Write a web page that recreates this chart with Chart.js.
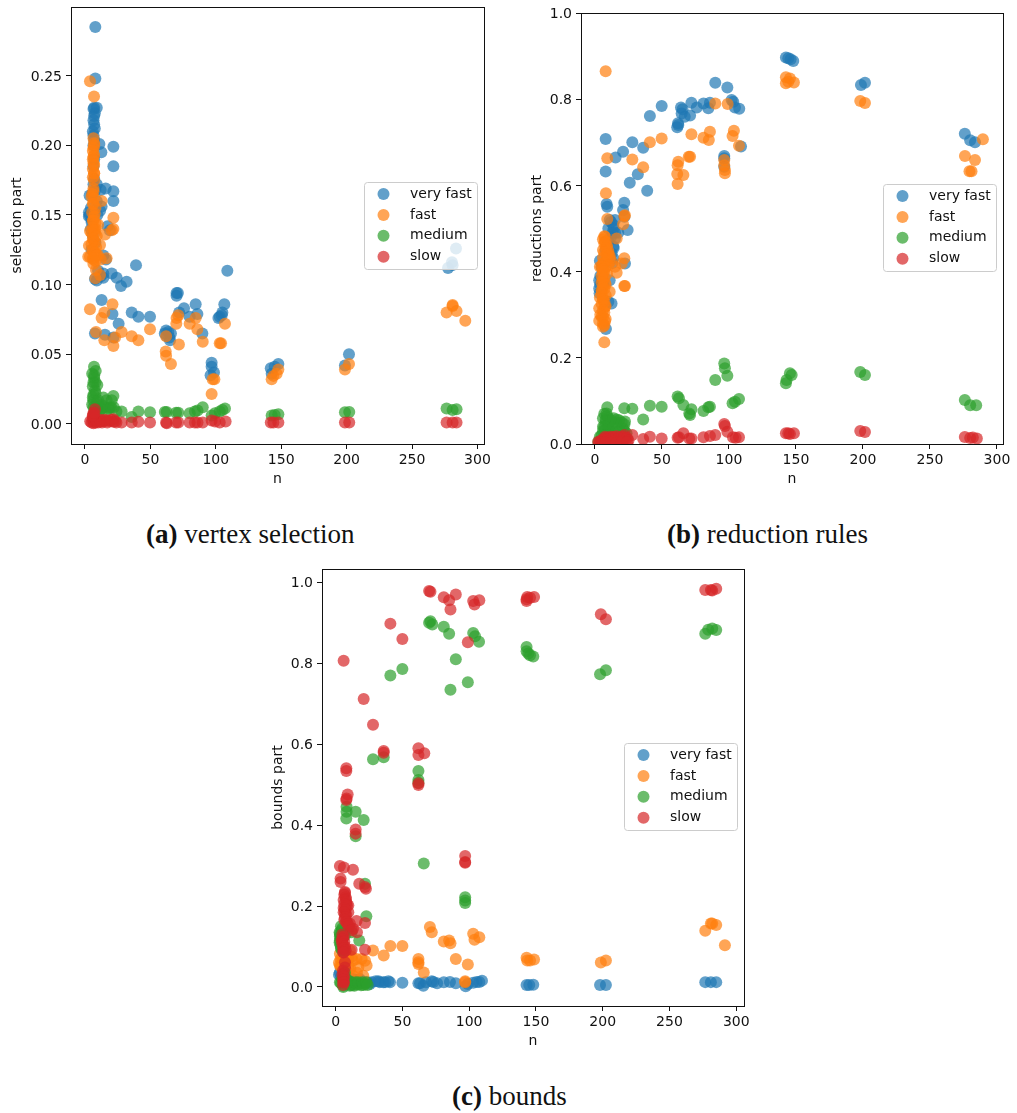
<!DOCTYPE html>
<html>
<head>
<meta charset="utf-8">
<title>Time parts by n</title>
<script src="https://cdn.jsdelivr.net/npm/chart.js@4"></script>
<style>
    body { margin: 0; background: #fff; width: 1017px; height: 1113px; position: relative; overflow: hidden; }
    canvas { position: absolute; }
    .caption { position: absolute; font-family: "Liberation Serif", serif; font-size: 27px; line-height: 30px; color: #111; white-space: nowrap; }
</style>
</head>
<body>
<canvas id="chart-a" width="492" height="502" style="left:0;top:-10px"></canvas>
<canvas id="chart-b" width="491" height="492" style="left:520px;top:0"></canvas>
<canvas id="chart-c" width="491" height="502" style="left:261px;top:550px"></canvas>
<div class="caption" style="left:146px;top:519px"><b>(a)</b> vertex selection</div>
<div class="caption" style="left:667px;top:519px"><b>(b)</b> reduction rules</div>
<div class="caption" style="left:452px;top:1081px"><b>(c)</b> bounds</div>
<script>
const seriesNames = ['very fast', 'fast', 'medium', 'slow'];
const seriesColors = ['rgba(31,119,180,0.7)', 'rgba(255,127,14,0.7)', 'rgba(44,160,44,0.7)', 'rgba(214,39,40,0.7)'];

const xTicks = [0, 50, 100, 150, 200, 250, 300];
const yTicksA = [0, 0.05, 0.10, 0.15, 0.20, 0.25];
const yTicksB = [0, 0.2, 0.4, 0.6, 0.8, 1.0];
const yTicksC = [0, 0.2, 0.4, 0.6, 0.8, 1.0];

// [n, part]
const selectionVeryFast = [[7.9,.285],[7.9,.248],[7,.227],[9,.227],[7,.221],[7,.215],[6.5,.207],[7,.204],[11,.201],[12.5,.195],[21.7,.199],[21.7,.185],[6.5,.185],[7,.176],[9,.172],[15.8,.169],[21.7,.167],[21.7,.160],[12,.168],[3.5,.164],[12.7,.156],[3,.152],[3,.149],[5,.145],[17.3,.142],[19,.139],[6,.135],[8,.13],[5,.125],[14,.121],[16,.118],[39,.114],[108.8,.11],[31.8,.102],[27.5,.099],[24.2,.105],[20.4,.108],[14,.105],[7.6,.104],[12.7,.089],[21,.079],[35.7,.080],[40.8,.077],[49.7,.077],[25.7,.072],[7.6,.065],[15.3,.064],[21.7,.062],[62,.067],[63.7,.066],[65.7,.065],[61,.065],[64.5,.062],[65,.060],[62.5,.063],[70,.094],[71,.094],[70,.092],[72,.080],[75.7,.083],[80,.077],[84.6,.086],[85.9,.079],[89.7,.065],[102,.076],[103,.077],[105,.080],[106.5,.086],[104.5,.078],[96.8,.044],[96.8,.041],[98.6,.037],[96,.035],[142,.040],[147.8,.043],[145,.041],[142.7,.036],[198.7,.042],[201.8,.050],[277.5,.112],[280.5,.116],[281,.114],[283.6,.126],[6.5,.226],[7.5,.223],[6.5,.218],[7.5,.212],[6,.21],[6.5,.2],[7,.19],[6.5,.172],[8,.168],[5.5,.165],[9,.16],[4.5,.155],[3.5,.15],[5,.147],[9.5,.15],[11.5,.153],[4.5,.14],[10,.11],[14,.108],[12,.106],[9,.103]];
const selectionFast = [[3.8,.246],[6.9,.235],[7,.2015],[6.5,.198],[6.5,.192],[6.5,.187],[7,.18],[6.5,.167],[5,.163],[6.5,.158],[12.7,.160],[7.5,.151],[6.5,.146],[21.7,.148],[21.7,.140],[20.5,.139],[15.3,.136],[3.8,.1385],[7.5,.137],[6.5,.132],[3,.128],[11.5,.1285],[7.5,.1225],[8,.14],[10,.143],[2.5,.12],[16.5,.119],[6.5,.118],[3.8,.12],[6.4,.115],[10,.121],[12,.118],[8.4,.1105],[11.5,.107],[8,.1045],[3.8,.0823],[12.7,.076],[14.8,.080],[21,.086],[8.4,.066],[14.8,.060],[21.7,.056],[23,.062],[28,.066],[35.7,.063],[40.8,.060],[49.7,.068],[62,.063],[61.7,.052],[62,.049],[65.7,.043],[71.8,.057],[69.8,.072],[71.3,.078],[70,.076],[80,.072],[84.6,.076],[85.9,.068],[90,.059],[103,.058],[104,.058],[107,.072],[97.6,.032],[98.9,.032],[96.8,.0215],[142.7,.032],[144,.0345],[146.5,.036],[147.8,.039],[198.7,.039],[201.8,.043],[276.4,.080],[281,.0854],[281,.0847],[284,.081],[290.7,.074],[6.5,.205],[7,.2],[6,.196],[7,.193],[6,.19],[7,.186],[6,.183],[7,.18],[6,.177],[7,.175],[6.5,.169],[5.5,.165],[7,.162],[6,.158],[8,.155],[5.5,.152],[7,.149],[6,.146],[8,.144],[6,.141],[7,.139],[5,.137],[9,.135],[6,.133],[7.5,.131],[5,.129],[8.5,.127],[6,.125],[7.5,.123],[9,.121],[6,.119],[8,.117]];
const selectionMedium = [[6.9,.041],[8.2,.038],[7,.035],[6.5,.030],[9.4,.028],[7.6,.024],[6.5,.021],[6.5,.017],[6.5,.012],[14,.019],[16.5,.017],[21.7,.020],[20.4,.017],[12.7,.0136],[10,.017],[19,.012],[11.5,.010],[8,.008],[16,.009],[28,.009],[35.7,.005],[40.8,.009],[49.7,.0084],[61,.0086],[62.4,.0086],[69.6,.008],[71.3,.008],[80,.0077],[84,.009],[86,.0096],[90,.012],[96.8,.006],[99.4,.0077],[103,.009],[105,.010],[107,.011],[142.7,.006],[145,.0065],[147.8,.007],[198.7,.0084],[202,.0086],[276.4,.011],[281,.010],[284,.0105],[5.5,.036],[7,.033],[8,.03],[6,.027],[8,.022],[6,.019],[9,.016],[5.5,.014],[8,.012],[11,.012],[13,.011],[15,.012],[18,.011],[20,.012],[22,.012],[24,.009]];
const selectionSlow = [[7.6,.0105],[6.5,.0077],[6,.0053],[4,.002],[6.5,.0005],[8,.001],[11.5,.003],[14,.002],[16.5,.0025],[21.7,.0033],[21.7,.0015],[28,.001],[35.7,.001],[40.8,.0015],[49.7,.001],[62,.001],[62.5,.0005],[69.6,.001],[71.3,.001],[80,.001],[84,.001],[86,.001],[90,.001],[96.8,.0024],[99.4,.0017],[103,.001],[107.5,.0017],[142,.001],[144,.001],[147.8,.001],[198.7,.001],[202,.001],[276.4,.001],[281,.001],[284,.001],[5,.001],[6,.003],[7,.002],[8,.004],[9,.002],[10,.001],[12,.002],[13,.001],[15,.003],[17,.001],[19,.002],[20,.003],[23,.002],[24,.001],[6,.006],[7,.008]];

const reductionsVeryFast = [[142.5,.897],[144.3,.895],[146,.8925],[148,.8886],[89.8,.838],[98.8,.827],[49.8,.784],[41,.761],[64.2,.781],[65.4,.7765],[64.7,.767],[67,.7595],[71,.762],[62.2,.740],[61.4,.7347],[62,.744],[72,.792],[76,.781],[81,.79],[84.6,.779],[85.8,.792],[102,.798],[103.2,.794],[104.5,.781],[107.7,.778],[109,.690],[96.5,.668],[96.5,.663],[96.5,.6435],[8,.7077],[15.4,.665],[21,.678],[27.9,.70],[36,.6875],[8,.632],[32,.6257],[26,.606],[39,.5878],[8.7,.557],[9.2,.5507],[21.9,.56],[21,.543],[22,.5275],[24.4,.4965],[15,.52],[13.7,.508],[10,.50],[17.4,.49],[15,.477],[13.7,.458],[12.4,.442],[13.7,.431],[22.4,.419],[3.7,.4253],[3.2,.38],[3.2,.361],[11,.38],[12.4,.326],[8.2,.267],[6,.373],[198.5,.833],[201.5,.838],[276,.72],[280,.705],[283.6,.70],[4,.39],[4,.37],[3.5,.35],[5,.41],[8,.45],[10,.47],[12,.48],[13,.49],[11,.44],[13,.42],[11,.52],[12,.515],[14,.5],[15,.49],[14,.455],[10,.33]];
const reductionsFast = [[8,.8646],[142.5,.851],[145.5,.848],[142.5,.837],[144.3,.8407],[148.5,.839],[89.8,.79],[99,.789],[49.8,.709],[41,.70],[27.9,.66],[36,.642],[9.2,.663],[8.2,.5816],[72,.7185],[70,.6667],[71,.6667],[62.2,.655],[61.7,.647],[61.4,.6265],[66,.624],[61.7,.603],[81,.7107],[85,.7053],[85.8,.7247],[103.7,.727],[102.7,.7146],[107.5,.692],[96.5,.659],[96.5,.647],[97,.6357],[97,.628],[22.4,.531],[21,.51],[21.9,.529],[16.2,.477],[9.2,.522],[21.9,.431],[20,.419],[16.2,.3975],[21.9,.3666],[22.4,.3666],[7.5,.481],[7.5,.4695],[8.7,.458],[10,.442],[11,.431],[15,.411],[6,.419],[3.7,.411],[6,.396],[6,.38],[7.5,.373],[5,.357],[11,.353],[6,.338],[3.7,.34],[3.2,.315],[7.5,.3186],[3.2,.286],[6,.295],[6,.272],[7,.236],[7.5,.284],[198,.796],[201.5,.791],[276.1,.668],[283.6,.659],[279.5,.633],[281,.633],[289.5,.707],[7,.482],[6,.475],[8,.47],[7,.465],[9,.46],[8,.455],[6,.45],[10,.448],[7,.445],[9,.44],[11,.437],[6,.432],[8,.428],[12,.425],[7,.42],[10,.415],[5,.412],[8,.41],[6,.405],[7,.4],[9,.395],[5,.39],[7,.385],[5,.375],[8,.37],[6,.365],[7,.36],[5,.35],[8,.345],[6,.335],[7,.33],[5,.325],[8,.32],[6,.31],[7,.305],[4,.3],[5,.295],[8,.29],[6,.28],[7,.275]];
const reductionsMedium = [[96.5,.187],[97,.1756],[98.8,.1585],[89.8,.1485],[145.5,.164],[146.8,.16],[143,.1485],[142.5,.1408],[61.7,.11],[62.7,.106],[66,.0905],[72,.0804],[70.4,.071],[71,.067],[81,.0766],[84.6,.085],[85.8,.0866],[102.7,.0943],[104.5,.098],[107.5,.1044],[49.8,.0866],[41,.089],[36,.057],[27.9,.082],[21.9,.0827],[9.2,.085],[8.7,.071],[8,.056],[10,.044],[16.2,.057],[22.4,.052],[21,.036],[13.7,.048],[6,.04],[8.7,.025],[3.7,.017],[15,.025],[23.6,.025],[7.5,.032],[11,.032],[2.5,.005],[198,.167],[201.5,.16],[276,.102],[280,.09],[284.5,.09],[7,.07],[9,.065],[6,.06],[8,.05],[10,.06],[12,.055],[14,.06],[16,.05],[18,.055],[20,.05],[22,.045],[7,.04],[10,.035],[13,.035],[16,.03],[19,.03],[22,.03],[6,.03],[8,.02],[5,.02]];
const reductionsSlow = [[96.5,.0464],[97,.0418],[98.8,.0286],[89.8,.021],[85.8,.0186],[81,.0155],[70.4,.013],[72,.013],[66,.0247],[61.7,.0147],[62.7,.0155],[49.8,.013],[41,.017],[36,.0116],[27.9,.021],[22,.021],[22.4,.013],[103,.0155],[105,.0147],[107.5,.0155],[142.5,.0247],[144.3,.0247],[145.5,.023],[148.5,.0247],[2.5,.005],[5,.009],[7.5,.017],[10,.013],[12.4,.011],[15,.013],[17.4,.011],[20,.013],[6,.005],[8.7,.009],[198,.03],[201.5,.028],[276,.016],[280,.014],[282,.015],[285,.013],[3,.003],[4,.006],[6,.01],[8,.014],[10,.015],[12,.017],[14,.016],[16,.018],[18,.015],[20,.017],[22,.016],[24,.014],[25,.008],[5,.003],[8,.003],[12,.003],[16,.003],[20,.004],[24,.004]];

const boundsVeryFast = [[3.2,.036],[25.7,.0074],[32,.014],[35.7,.0116],[39.5,.014],[40.7,.0116],[50,.0107],[62,.009],[63.2,.009],[65.7,.0033],[67.7,.0116],[72,.014],[73.2,.0124],[76,.009],[81,.0116],[85.6,.0124],[90,.009],[97.4,.0017],[99,.0074],[103,.0107],[105.6,.0124],[107.6,.0124],[109.6,.0157],[143,.005],[145,.005],[148,.0058],[198,.005],[202.4,.005],[276.8,.012],[281,.012],[285,.012],[5.7,.032],[8.2,.02],[13,.02],[18,.02],[20.7,.0116],[2.5,.03],[4,.025],[15,.018],[20,.014],[24,.012],[27,.012],[30,.014],[33,.012],[37,.012]];
const boundsFast = [[70.6,.148],[72,.1355],[81,.1124],[85,.115],[86,.108],[90,.0694],[103,.1314],[107.6,.123],[104,.117],[99,.0554],[97,.014],[97,.0116],[143,.072],[143.5,.0653],[145.6,.0653],[148.6,.068],[41,.101],[50,.101],[36,.0777],[28,.09],[62,.0694],[62,.061],[62,.057],[66,.036],[276.8,.139],[281,.157],[282,.157],[285,.153],[291.5,.103],[198.6,.0607],[202.4,.0656],[3.7,.0694],[7,.0735],[9.5,.0694],[13,.065],[15.7,.0694],[19.5,.0694],[22,.065],[23.2,.053],[17,.049],[9.5,.053],[3.2,.053],[3.2,.082],[5.7,.09],[10.7,.09],[20.7,.028],[13,.028],[8.2,.04],[7,.082],[5,.07],[8,.065],[12,.075],[4,.05],[6,.045],[11,.045],[16,.035],[2.5,.06]];
const boundsMedium = [[71,.904],[70,.90],[72.4,.896],[81,.89],[85,.8727],[103,.875],[104.4,.867],[107.4,.853],[90,.81],[86,.7347],[99,.753],[143,.84],[143,.83],[144.3,.824],[148,.817],[145.6,.82],[50,.786],[41,.77],[28,.563],[36,.568],[62,.534],[62,.5116],[62,.505],[8.2,.4455],[8.2,.433],[8,.4165],[15,.433],[21,.4124],[15,.3727],[66,.305],[97,.222],[97,.214],[97,.2074],[22,.2554],[23,.175],[4.5,.14],[3.2,.131],[3.2,.115],[17.7,.115],[3.7,.103],[5.7,.003],[5.7,.0],[10.7,.003],[13,.005],[18,.0074],[22,.0074],[8.2,.0074],[3.2,.0116],[9.5,.144],[12,.1355],[7,.127],[3.2,.124],[198,.773],[202.4,.783],[276.8,.873],[279,.883],[282,.886],[285,.882],[4,.15],[5,.145],[3,.135],[4,.125],[3,.11],[4,.095],[5,.09],[4,.01],[5,.02],[6,.03],[7,.035],[8,.02],[9,.01],[10,.015],[11,.005],[12,.012],[14,.003],[15,.012],[16,.006],[17,.012],[19,.004],[20,.012],[21,.005],[23,.012],[24,.005]];
const boundsSlow = [[70,.9785],[71,.977],[81,.963],[85,.956],[90,.97],[86,.933],[103,.9537],[104,.9455],[107.6,.956],[99,.852],[143,.958],[143.5,.9636],[145.6,.962],[148.6,.9636],[143,.9537],[41,.898],[50,.86],[6,.806],[21,.7116],[28,.648],[36,.5835],[36,.579],[62,.59],[62,.5736],[66.4,.5777],[62,.5033],[62,.499],[8,.5405],[8,.534],[9,.476],[8.2,.466],[8,.462],[15,.389],[15,.379],[97,.324],[97,.309],[97,.307],[3.2,.299],[6.2,.295],[13,.29],[3.7,.2678],[3.7,.2595],[17.7,.2554],[22,.247],[22.7,.243],[7,.232],[7.7,.218],[8.2,.206],[9.5,.2017],[7,.1934],[7,.181],[8.2,.1645],[15.7,.163],[22,.158],[10.7,.156],[13,.144],[16,.1355],[4.5,.115],[5.7,.1025],[5.7,.094],[12,.092],[22,.092],[7,.061],[6.2,.036],[6.2,.024],[6.2,.0116],[5.7,.123],[5.7,.086],[9.5,.185],[7,.048],[198.6,.921],[202.4,.909],[276.8,.981],[281,.981],[282,.98],[285,.984],[7,.235],[6.5,.228],[7.5,.222],[6,.215],[8,.21],[6.5,.205],[8.5,.2],[6,.195],[7.5,.19],[6,.185],[8,.178],[7,.172],[6.5,.166],[8,.16],[9,.155],[10,.15],[12,.14],[5,.13],[6,.125],[5,.118],[6.5,.112],[5,.106],[7,.1],[6,.095],[7.5,.09],[6,.085],[5.5,.04],[5,.03],[6,.025],[5.5,.018],[6,.012],[5.5,.005]];

// matplotlib look: closed frame and the translucent legend box
const framePlugin = {
    id: 'frame',
    afterDatasetsDraw(chart, args, opts) {
        const ctx = chart.ctx;
        const area = chart.chartArea;
        ctx.save();
        ctx.strokeStyle = '#111';
        ctx.lineWidth = 1;
        ctx.strokeRect(area.left + 0.5, area.top + 0.5, area.right - area.left, area.bottom - area.top);

        const boxW = 113, boxH = 87;
        const boxX = area.right - 7 - boxW;
        const boxY = opts.legendTop;
        ctx.beginPath();
        ctx.roundRect(boxX + 0.5, boxY + 0.5, boxW, boxH, 3);
        ctx.fillStyle = 'rgba(255,255,255,0.8)';
        ctx.fill();
        ctx.strokeStyle = '#ccc';
        ctx.stroke();

        ctx.font = '14px "DejaVu Sans"';
        ctx.textBaseline = 'middle';
        chart.data.datasets.forEach((ds, i) => {
            const rowY = boxY + 12 + i * 20.9;
            ctx.beginPath();
            ctx.arc(boxX + 19.5, rowY, 6, 0, Math.PI * 2);
            ctx.fillStyle = ds.backgroundColor;
            ctx.fill();
            ctx.fillStyle = '#111';
            ctx.fillText(ds.label, boxX + 46, rowY);
        });
        ctx.restore();
    }
};

function makePanel(id, opts) {
    const datasets = opts.series.map((points, i) => ({
        label: seriesNames[i],
        data: points.map(p => ({ x: p[0], y: p[1] })),
        backgroundColor: seriesColors[i],
        borderWidth: 0,
        pointRadius: 6,
        order: 3 - i
    }));

    new Chart(document.getElementById(id), {
        type: 'scatter',
        data: { datasets: datasets },
        plugins: [framePlugin],
        options: {
            responsive: false,
            animation: false,
            events: [],
            layout: { padding: { top: opts.padTop, right: 8, left: 0, bottom: 0 } },
            plugins: {
                legend: { display: false },
                tooltip: { enabled: false },
                frame: { legendTop: opts.legendTop }
            },
            scales: {
                x: {
                    type: 'linear',
                    min: opts.xMin,
                    max: opts.xMax,
                    afterBuildTicks: scale => { scale.ticks = xTicks.map(v => ({ value: v })); },
                    afterFit: scale => {
                        scale.height = opts.xHeight;
                        scale.paddingRight = 0;
                        scale.paddingLeft = 0;
                    },
                    grid: { drawOnChartArea: false, tickLength: 5, tickColor: '#111' },
                    border: { color: '#111' },
                    ticks: { color: '#111', font: { family: 'DejaVu Sans', size: 14 }, padding: 3, maxRotation: 0, autoSkip: false },
                    title: { display: true, text: 'n', color: '#111', font: { family: 'DejaVu Sans', size: 14 }, padding: { top: 2, bottom: opts.xTitlePad } }
                },
                y: {
                    type: 'linear',
                    min: opts.yMin,
                    max: opts.yMax,
                    afterBuildTicks: scale => { scale.ticks = opts.yTicks.map(v => ({ value: v })); },
                    afterFit: scale => { scale.width = opts.yWidth; },
                    grid: { drawOnChartArea: false, tickLength: 5, tickColor: '#111' },
                    border: { color: '#111' },
                    ticks: {
                        color: '#111',
                        font: { family: 'DejaVu Sans', size: 14 },
                        padding: 4,
                        labelOffset: 1.5,
                        autoSkip: false,
                        callback: v => v.toFixed(opts.yDigits)
                    },
                    title: { display: true, text: opts.yTitle, color: '#111', font: { family: 'DejaVu Sans', size: 14 }, padding: { top: opts.yTitlePad, bottom: 0 } }
                }
            }
        }
    });
}

makePanel('chart-a', {
    series: [selectionVeryFast, selectionFast, selectionMedium, selectionSlow],
    yTitle: 'selection part', yTicks: yTicksA, yDigits: 2,
    xMin: -10.7, xMax: 305, yMin: -0.0144, yMax: 0.2993,
    yWidth: 71, xHeight: 48, padTop: 17, legendTop: 192, yTitlePad: 9, xTitlePad: 4
});
makePanel('chart-b', {
    series: [reductionsVeryFast, reductionsFast, reductionsMedium, reductionsSlow],
    yTitle: 'reductions part', yTicks: yTicksB, yDigits: 1,
    xMin: -10.4, xMax: 304.5, yMin: 0, yMax: 1,
    yWidth: 61, xHeight: 48, padTop: 13, legendTop: 184, yTitlePad: 9, xTitlePad: 4
});
makePanel('chart-c', {
    series: [boundsVeryFast, boundsFast, boundsMedium, boundsSlow],
    yTitle: 'bounds part', yTicks: yTicksC, yDigits: 1,
    xMin: -10.2, xMax: 305.8, yMin: -0.047, yMax: 1.033,
    yWidth: 61, xHeight: 46, padTop: 19, legendTop: 193, yTitlePad: 9, xTitlePad: 2
});
</script>
</body>
</html>
